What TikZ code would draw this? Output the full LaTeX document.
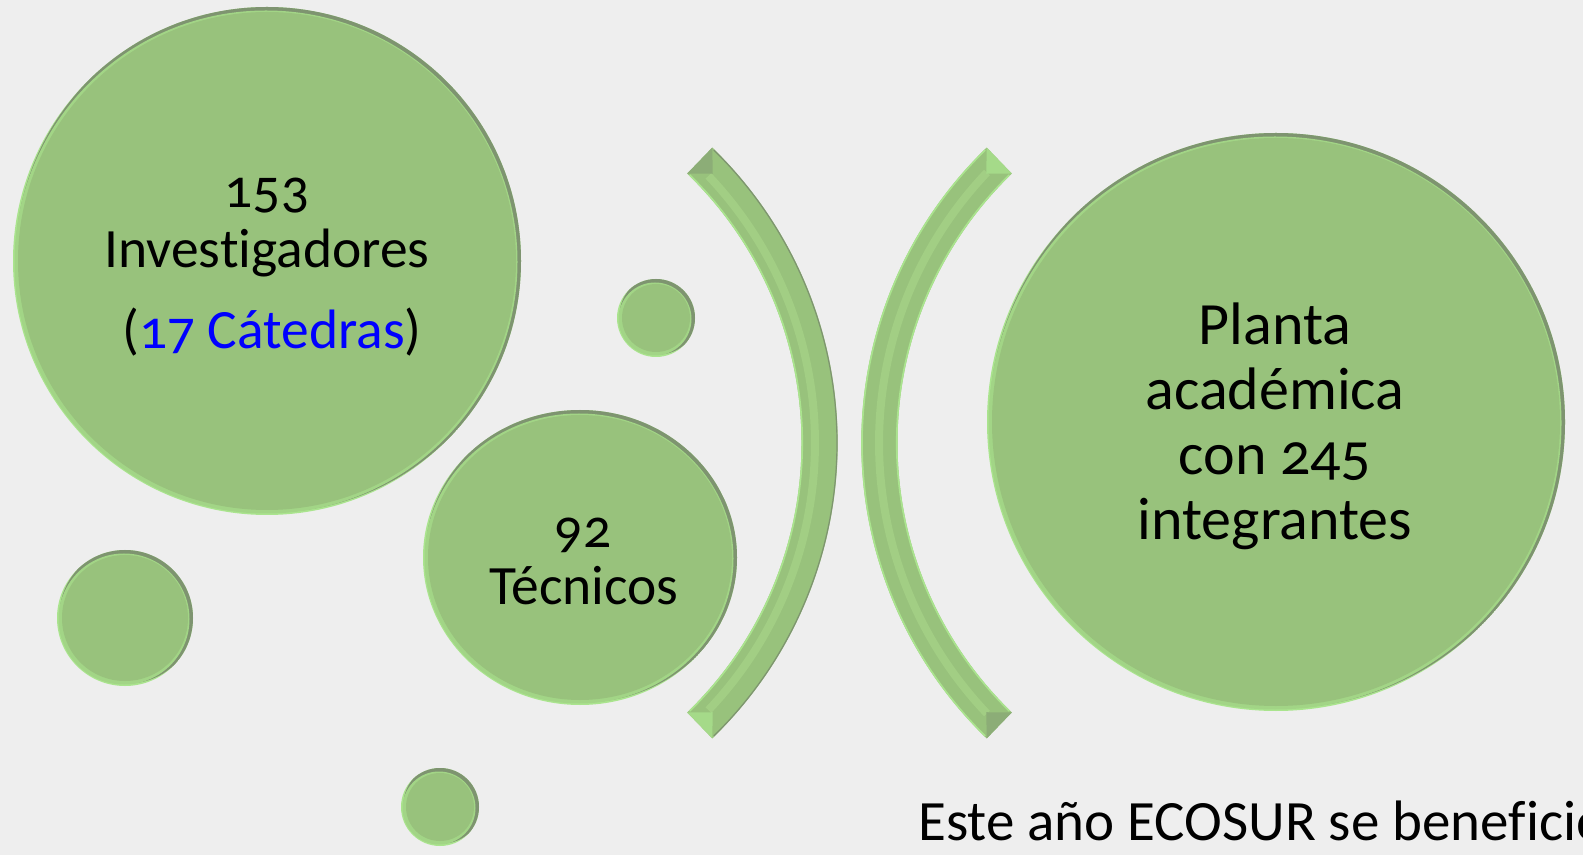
\documentclass[tikz,border=0pt]{standalone}
\usepackage{fontspec}
\setmainfont{Carlito}[Numbers=OldStyle,Ligatures={NoCommon}]
\usetikzlibrary{calc,shapes.geometric}
\definecolor{bgc}{RGB}{238,238,238}
\definecolor{bodyc}{RGB}{152,194,124}
\definecolor{rimlt}{RGB}{170,228,142}
\definecolor{rimdk}{RGB}{126,148,112}
\definecolor{stripe}{RGB}{162,206,132}
\definecolor{catblue}{RGB}{0,0,255}
\tikzset{
  lefttxt/.style={anchor=base, inner sep=0pt, font=\fontsize{55.5}{60}\selectfont},
  righttxt/.style={anchor=base, inner sep=0pt, font=\fontsize{60}{65}\selectfont},
  bubnode/.style={ellipse, inner sep=0pt, draw=none},
  band/.style={fill=bodyc},
  bandridge/.style={draw=stripe, line width=8pt},
  bandout/.style={draw=rimdk, line width=1.2pt},
  bandin/.style={draw=rimlt, line width=1.6pt},
  facet/.style={fill=rimdk!45!bodyc},
  facetlt/.style={fill=rimlt!70!bodyc},
}
\newcommand\bubble[5]{%
  \fill[rimlt] (#2,#3) ellipse [x radius=#4, y radius=#5];
  \begin{scope}
    \clip (#2,#3) ellipse [x radius=#4, y radius=#5];
    \fill[rimdk] (#2+2.5,#3+2.5) ellipse [x radius=#4, y radius=#5];
    \fill[rimlt!55!bodyc] (#2-1,#3-1) ellipse [x radius=#4-2.5, y radius=#5-2.5];
  \end{scope}
  \fill[bodyc] (#2,#3) ellipse [x radius=#4-5, y radius=#5-5];
  \node[bubnode, minimum width={2*#4pt}, minimum height={2*#5pt}] (#1) at (#2,#3) {};
}
\begin{document}
\begin{tikzpicture}[x=1pt,y=1pt]
\useasboundingbox (0,0) rectangle (1583,855);
\fill[bgc] (0,0) rectangle (1583,855);
\clip (0,0) rectangle (1583,855);

% bubbles
\bubble{binv}{267}{594}{254}{254}
\bubble{btec}{580}{297.5}{157}{147.5}
\bubble{bsma}{656}{537}{39}{39}
\bubble{bsmb}{125}{237}{68}{68}
\bubble{bsmc}{440}{48}{39}{39}
\bubble{bpla}{1276}{433}{289}{289}

% left bracket
\coordinate (L) at (427,412);
\fill[band] ($(L)+(-46:410.7)$) arc[start angle=-46,end angle=46,radius=410.7]
   -- ($(L)+(46:374.5)$) arc[start angle=46,end angle=-46,radius=374.5] -- cycle;
\draw[bandridge] ($(L)+(-43.5:388)$) arc[start angle=-43.5,end angle=43.5,radius=388];
\draw[bandout] ($(L)+(-45.6:410)$) arc[start angle=-45.6,end angle=45.6,radius=410];
\draw[bandin] ($(L)+(-45.6:375.3)$) arc[start angle=-45.6,end angle=45.6,radius=375.3];
\fill[facet] ($(L)+(46:410.7)$) -- ($(L)+(46:374.5)$) -- ($(L)+(43.3:392.6)$) -- cycle;
\fill[facetlt] ($(L)+(-46:410.7)$) -- ($(L)+(-46:374.5)$) -- ($(L)+(-43.3:392.6)$) -- cycle;

% right bracket
\coordinate (R) at (1272,412);
\fill[band] ($(R)+(134:410.7)$) arc[start angle=134,end angle=226,radius=410.7]
   -- ($(R)+(226:374.5)$) arc[start angle=226,end angle=134,radius=374.5] -- cycle;
\draw[bandridge] ($(R)+(136.5:393)$) arc[start angle=136.5,end angle=223.5,radius=393];
\draw[bandin] ($(R)+(134.4:410)$) arc[start angle=134.4,end angle=225.6,radius=410];
\draw[bandin] ($(R)+(134.4:375.3)$) arc[start angle=134.4,end angle=225.6,radius=375.3];
\fill[facetlt] ($(R)+(134:410.7)$) -- ($(R)+(134:374.5)$) -- ($(R)+(136.7:392.6)$) -- cycle;
\fill[facet] ($(R)+(226:410.7)$) -- ($(R)+(226:374.5)$) -- ($(R)+(223.3:392.6)$) -- cycle;

% texts
\node[lefttxt] (n153) at (267,647) {153};
\node[lefttxt] (ninv) at (267,587) {Investigadores};
\node[lefttxt] (ncat) at (272,506) {(\textcolor{catblue}{17 Cátedras})};
\node[lefttxt] (n92) at (583,307) {92};
\node[lefttxt] (ntec) at (584,250) {Técnicos};
\node[righttxt] (npla) at (1275,510) {Planta};
\node[righttxt] (nacad) at (1275,445) {académica};
\node[righttxt] (ncon) at (1275,380) {con 245};
\node[righttxt] (nint) at (1275,315) {integrantes};
\node[anchor=base west, inner sep=0pt, font=\fontsize{57}{64}\selectfont] (nbot) at (918,15) {Este año ECOSUR se beneficio};
\end{tikzpicture}
\end{document}
